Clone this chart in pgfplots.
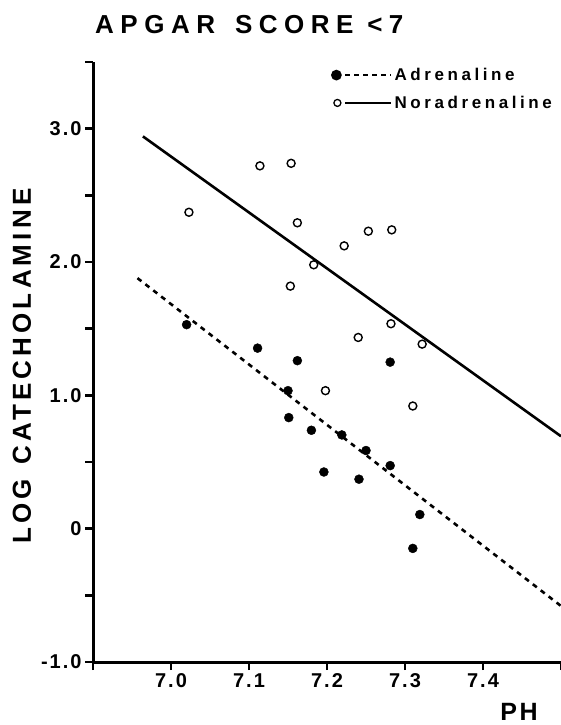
\documentclass[border=0pt]{standalone}
\usepackage{fontspec}
\setmainfont{Liberation Sans}
\usepackage{pgfplots}
\pgfplotsset{compat=1.18}
\newfontfamily\ticksf{Liberation Sans}[LetterSpace=10]
\newfontfamily\legf{Liberation Sans}[LetterSpace=21]
\newfontfamily\titf{Liberation Sans}[LetterSpace=25]
\newfontfamily\labf{Liberation Sans}[LetterSpace=16]
\newfontfamily\phf{Liberation Sans}[LetterSpace=11]

\begin{document}
\begin{tikzpicture}[x=1pt,y=1pt]
\useasboundingbox (0,0) rectangle (560,725);
\begin{axis}[
  at={(93pt,63pt)}, anchor=south west, scale only axis,
  width=468pt, height=600pt,
  xmin=6.9, xmax=7.5, ymin=-1, ymax=3.5,
  axis x line=bottom, axis y line=left,
  axis line style={-, line width=3pt},
  xtick={6.9,7.0,7.1,7.2,7.3,7.4,7.5},
  xticklabels={{},7.0,7.1,7.2,7.3,7.4,{}},
  ytick={-1,-0.5,0,0.5,1,1.5,2,2.5,3,3.5},
  yticklabels={-1.0,{},0,{},1.0,{},2.0,{},3.0,{}},
  tick align=outside, major tick length=8pt,
  tick style={line width=2.5pt, black},
  /pgf/number format/assume math mode=true,
  tick label style={font=\ticksf\bfseries\fontsize{20}{24}\selectfont},
  legend cell align=left,
  legend style={draw=none, fill=none, at={(axis cs:7.205,3.47)}, anchor=north west,
    font=\legf\bfseries\fontsize{17}{20}\selectfont, row sep=10pt, inner sep=0pt,
    nodes={inner sep=2pt}},
]
% Adrenaline (filled)
\addplot[only marks, mark=*, mark size=4.5pt, black, forget plot] coordinates {
(7.020,1.530) (7.111,1.354) (7.162,1.260) (7.281,1.249) (7.150,1.035)
(7.151,0.833) (7.180,0.738) (7.219,0.703) (7.250,0.586) (7.281,0.473)
(7.196,0.425) (7.241,0.371) (7.319,0.106) (7.310,-0.148)
};
% Noradrenaline (open)
\addplot[only marks, mark=o, mark size=4pt, black, mark options={line width=1.4pt}, forget plot] coordinates {
(7.023,2.373) (7.114,2.721) (7.154,2.740) (7.162,2.294) (7.183,1.979)
(7.153,1.819) (7.222,2.121) (7.253,2.231) (7.283,2.241) (7.240,1.434)
(7.282,1.537) (7.322,1.384) (7.198,1.035) (7.310,0.920)
};
\addplot[black, line width=2.6pt, dash pattern=on 5pt off 5pt,
  legend image code/.code={
    \fill[solid] (4pt,0pt) circle (4pt);
    \draw[line width=2.5pt, dash pattern=on 5pt off 4pt] (13pt,0pt) -- (59pt,0pt);
  }] coordinates {(6.957,1.879) (7.5,-0.58)};
\addlegendentry{Adrenaline}
\addplot[black, line width=2.6pt,
  legend image code/.code={
    \draw[solid, line width=1.3pt] (5pt,0pt) circle (3.5pt);
    \draw[solid, line width=2.5pt] (13pt,0pt) -- (59pt,0pt);
  }] coordinates {(6.964,2.942) (7.5,0.693)};
\addlegendentry{Noradrenaline}
\end{axis}
\node[anchor=base west, inner sep=0pt, font=\titf\bfseries\fontsize{26}{30}\selectfont] at (95,691) {APGAR\hspace{20pt}SCORE <7};
\node[rotate=90, inner sep=0pt, font=\labf\bfseries\fontsize{26}{30}\selectfont] at (22,359) {LOG\hspace{14pt}CATECHOLAMINE};
\node[anchor=base, inner sep=0pt, font=\phf\bfseries\fontsize{25}{30}\selectfont] at (519,5) {PH};
\end{tikzpicture}
\end{document}
